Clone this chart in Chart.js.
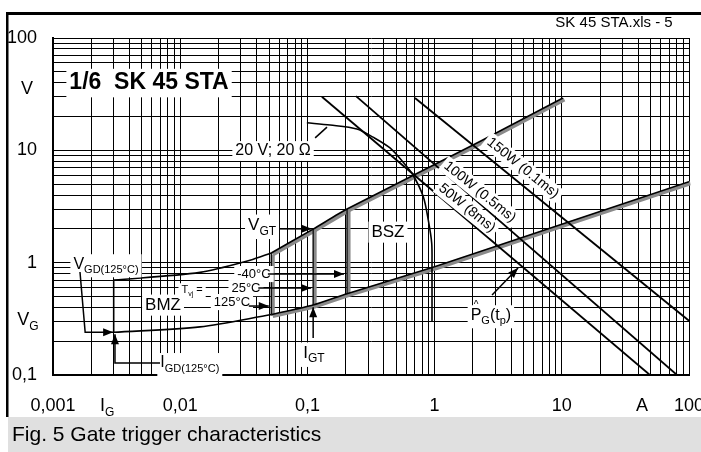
<!DOCTYPE html>
<html>
<head>
<meta charset="utf-8">
<script src="https://cdn.jsdelivr.net/npm/chart.js@4.4.1/dist/chart.umd.min.js"></script>
<style>
  html, body { margin: 0; padding: 0; background: #fff; }
  #cadre { width: 701px; height: 452px; position: relative; }
</style>
</head>
<body>
<div id="cadre"><canvas id="graph"></canvas></div>
<script>
// Axes : décades et graduations intermédiaires
const decadesI = [0.001, 0.01, 0.1, 1, 10, 100];
const decadesV = [0.1, 1, 10, 100];
const mantisses = [1, 2, 3, 4, 5, 6, 7, 8, 9];
const etiquettesI = ['0,001', '0,01', '0,1', '1', '10', '100'];
const etiquettesV = ['0,1', '1', '10', '100'];

// Limite haute (V_GT)
const iHautNoir = [0.003, 0.0143, 0.0354, 0.052];
const vHautNoir = [0.70, 0.82, 1.05, 1.22];
const iHautGris = [0.052, 0.111, 0.205, 2.27, 10.2];
const vHautGris = [1.22, 1.99, 3.0, 12, 29.2];
// Limite basse
const iBasNoir = [0.003, 0.0143, 0.052];
const vBasNoir = [0.24, 0.268, 0.345];
const iBasGris = [0.052, 0.111, 0.205, 1, 10, 100];
const vBasGris = [0.345, 0.42, 0.53, 0.92, 2.2, 5.25];
// Verticales (I_GD et températures)
const iGD = [0.003, 0.003];
const vGD = [0.24, 0.70];
const iT125 = [0.052, 0.052];
const vT125 = [0.345, 1.22];
const iT25 = [0.111, 0.111];
const vT25 = [0.42, 1.99];
const iTm40 = [0.205, 0.205];
const vTm40 = [0.53, 3.0];
// Droite de charge 20 V ; 20 ohms
const i20V = [0.099, 0.151, 0.245, 0.328, 0.446, 0.564, 0.676, 0.815, 0.892, 0.949, 0.954, 0.954];
const v20V = [17.6, 16.8, 15.5, 13.1, 10.5, 7.87, 6.03, 3.86, 2.39, 1.49, 0.92, 0.298];
// Puissances max de gâchette
const i150W = [0.701, 100];
const v150W = [29.2, 0.304];
const i100W = [0.241, 80.5];
const v100W = [30.4, 0.1];
const i50W = [0.130, 49.3];
const v50W = [30.0, 0.1];

const GRIS = '#8a8a8a';
const POLICE = '"Liberation Sans", Arial, sans-serif';

// Textes posés sur le graphique (coordonnées en A / V)
const textes = [
    {segs: [{t: '1/6  SK 45 STA'}], i: 0.00569, v: 39.7, taille: 23, gras: true},
    {segs: [{t: '20 V; 20 \u03A9'}], i: 0.0537, v: 9.86, taille: 16},
    {segs: [{t: 'V'}, {t: 'GT', sub: true}], i: 0.044, v: 2.16, taille: 17},
    {segs: [{t: 'BSZ'}], i: 0.43, v: 1.87, taille: 17},
    {segs: [{t: 'BMZ'}], i: 0.00733, v: 0.419, taille: 17},
    {segs: [{t: 'T'}, {t: 'vj', sub: true}, {t: ' ='}], i: 0.0124, v: 0.57, taille: 11},
    {segs: [{t: '-40\u00B0C'}], i: 0.038, v: 0.792, taille: 13},
    {segs: [{t: '25\u00B0C'}], i: 0.0329, v: 0.594, taille: 13},
    {segs: [{t: '125\u00B0C'}], i: 0.0255, v: 0.446, taille: 13},
    {segs: [{t: 'I'}, {t: 'GT', sub: true}], i: 0.1127, v: 0.157, taille: 17},
    {segs: [{t: 'P', chapeau: true}, {t: 'G', sub: true}, {t: '(t'}, {t: 'p', sub: true}, {t: ')'}], i: 2.77, v: 0.341, taille: 16},
    {segs: [{t: 'V'}, {t: 'GD(125\u00B0C)', sub: true}], i: 0.00261, v: 0.97, taille: 16},
    {segs: [{t: 'I'}, {t: 'GD(125\u00B0C)', sub: true}], i: 0.0119, v: 0.128, taille: 16},
    {segs: [{t: '150W (0.1ms)'}], i: 4.95, v: 6.95, taille: 14, rot: 39},
    {segs: [{t: '100W (0.5ms)'}], i: 2.27, v: 4.26, taille: 14, rot: 39},
    {segs: [{t: '50W (8ms)'}], i: 1.80, v: 3.06, taille: 14, rot: 39}
];

// Flèches (points en A / V, pointe au dernier point)
const fleches = [
    {p: [[0.0609, 2.0], [0.108, 2.0]]},
    {p: [[0.0489, 0.792], [0.194, 0.792]]},
    {p: [[0.0411, 0.594], [0.107, 0.594]]},
    {p: [[0.0346, 0.411], [0.0497, 0.411]]},
    {p: [[0.111, 0.214], [0.111, 0.40]]},
    {p: [[2.83, 0.515], [4.53, 0.895]]},
    {p: [[0.00163, 0.825], [0.00179, 0.24], [0.00297, 0.24]]},
    {p: [[0.00694, 0.128], [0.00307, 0.128], [0.00307, 0.231]]},
    {p: [[0.115, 12.9], [0.1426, 16.1]], sansPointe: true}
];

function points(xs, ys) {
    return xs.map((x, k) => ({x: x, y: ys[k]}));
}

function serie(xs, ys, couleur, epaisseur, extra) {
    return Object.assign({
        data: points(xs, ys),
        borderColor: couleur,
        borderWidth: epaisseur,
        pointRadius: 0,
        fill: false,
        tension: 0,
        order: 1
    }, extra || {});
}

// Graduations : 1..9 x chaque décade
function graduations(decades) {
    const vals = [];
    decades.forEach((d, k) => {
        if (k === decades.length - 1) { vals.push(d); return; }
        mantisses.forEach(m => vals.push(+(m * d).toPrecision(3)));
    });
    return vals;
}

// Texte avec indices, fond blanc, rotation éventuelle
function texteRiche(c, segs, x, y, taille, o) {
    o = o || {};
    const poids = o.gras ? 'bold ' : '';
    const tailleSeg = s => s.sub ? Math.round(taille * 0.68) : taille;
    let w = 0;
    let indice = false;
    segs.forEach(s => {
        c.font = poids + tailleSeg(s) + 'px ' + POLICE;
        w += c.measureText(s.t).width;
        if (s.sub) indice = true;
    });
    c.save();
    c.translate(x, y);
    if (o.rot) c.rotate(o.rot * Math.PI / 180);
    let x0 = o.align === 'left' ? 0 : (o.align === 'right' ? -w : -w / 2);
    if (o.fond !== false) {
        c.fillStyle = '#fff';
        const haut = -taille * 0.62;
        const bas = indice ? taille * 0.82 : taille * 0.62;
        c.fillRect(x0 - 3, haut, w + 6, bas - haut);
    }
    c.fillStyle = '#000';
    c.textBaseline = 'middle';
    c.textAlign = 'left';
    segs.forEach(s => {
        c.font = poids + tailleSeg(s) + 'px ' + POLICE;
        const dy = s.sub ? taille * 0.36 : 0;
        c.fillText(s.t, x0, dy);
        const ws = c.measureText(s.t).width;
        if (s.chapeau) {
            c.font = Math.round(taille * 0.6) + 'px ' + POLICE;
            c.textAlign = 'center';
            c.fillText('^', x0 + ws / 2, -taille * 0.62);
            c.textAlign = 'left';
        }
        x0 += ws;
    });
    c.restore();
}

function fleche(c, pts, pointe) {
    c.save();
    c.strokeStyle = '#000';
    c.fillStyle = '#000';
    c.lineWidth = 1.5;
    c.beginPath();
    pts.forEach((p, k) => k === 0 ? c.moveTo(p[0], p[1]) : c.lineTo(p[0], p[1]));
    c.stroke();
    if (pointe) {
        const a = pts[pts.length - 2], b = pts[pts.length - 1];
        const ang = Math.atan2(b[1] - a[1], b[0] - a[0]);
        c.translate(b[0], b[1]);
        c.rotate(ang);
        c.beginPath();
        c.moveTo(0, 0);
        c.lineTo(-10, -4);
        c.lineTo(-10, 4);
        c.closePath();
        c.fill();
    }
    c.restore();
}

// Décale les traits gris pour l'effet d'ombre
const decalage = {
    id: 'decalage',
    beforeDatasetDraw(chart, args) {
        chart.ctx.save();
        if (chart.data.datasets[args.index].decale) chart.ctx.translate(1.5, 1.5);
    },
    afterDatasetDraw(chart) {
        chart.ctx.restore();
    }
};

// Cadre, bandeau de légende, en-tête
const habillage = {
    id: 'habillage',
    beforeDraw(chart) {
        const c = chart.ctx;
        c.save();
        c.fillStyle = '#fff';
        c.fillRect(0, 0, chart.width, chart.height);
        c.fillStyle = '#e0e0e0';
        c.fillRect(8, 417, chart.width - 8, chart.height - 417);
        c.fillStyle = '#000';
        c.fillRect(6, 12, chart.width - 6, 3);
        c.fillRect(6, 12, 2.5, 405);
        c.restore();
        texteRiche(c, [{t: 'SK 45 STA.xls - 5'}], 614, 23, 15, {fond: false});
        texteRiche(c, [{t: 'Fig. 5 Gate trigger characteristics'}], 12, 435, 21, {fond: false, align: 'left'});
    },
    afterDatasetsDraw(chart) {
        const c = chart.ctx;
        const sx = chart.scales.x, sy = chart.scales.y;
        const zone = chart.chartArea;
        // Étiquettes des axes
        decadesI.forEach((d, k) => {
            texteRiche(c, [{t: etiquettesI[k]}], sx.getPixelForValue(d), zone.bottom + 31, 18, {fond: false});
        });
        texteRiche(c, [{t: 'I'}, {t: 'G', sub: true}], sx.getPixelForValue(0.00266), zone.bottom + 31, 18, {fond: false});
        texteRiche(c, [{t: 'A'}], sx.getPixelForValue(42.8), zone.bottom + 31, 18, {fond: false});
        decadesV.forEach((d, k) => {
            texteRiche(c, [{t: etiquettesV[k]}], zone.left - 16, sy.getPixelForValue(d), 18, {fond: false, align: 'right'});
        });
        texteRiche(c, [{t: 'V'}], zone.left - 26, sy.getPixelForValue(35.1), 18, {fond: false});
        texteRiche(c, [{t: 'V'}, {t: 'G', sub: true}], zone.left - 25, sy.getPixelForValue(0.308), 18, {fond: false});
        // Annotations
        textes.forEach(o => {
            texteRiche(c, o.segs, sx.getPixelForValue(o.i), sy.getPixelForValue(o.v), o.taille, {gras: o.gras, rot: o.rot});
        });
        fleches.forEach(f => {
            const pts = f.p.map(p => [sx.getPixelForValue(p[0]), sy.getPixelForValue(p[1])]);
            fleche(c, pts, !f.sansPointe);
        });
    }
};

const datasets = [
    serie(iHautGris, vHautGris, GRIS, 4, {decale: true, order: 2}),
    serie(iBasGris, vBasGris, GRIS, 4, {decale: true, order: 2}),
    serie(iT125, vT125, GRIS, 4, {decale: true, order: 2}),
    serie(iT25, vT25, GRIS, 4, {decale: true, order: 2}),
    serie(iTm40, vTm40, GRIS, 4, {decale: true, order: 2}),
    serie(iHautNoir, vHautNoir, '#000', 1.6, {tension: 0.3}),
    serie(iHautGris, vHautGris, '#000', 1.6, {tension: 0.2}),
    serie(iBasNoir, vBasNoir, '#000', 1.6, {tension: 0.3}),
    serie(iBasGris, vBasGris, '#000', 1.6, {tension: 0.2}),
    serie(iGD, vGD, '#000', 1.6),
    serie(iT125, vT125, '#000', 1.2),
    serie(iT25, vT25, '#000', 1.2),
    serie(iTm40, vTm40, '#000', 1.2),
    serie(i20V, v20V, '#000', 1.6, {tension: 0.3}),
    serie(i150W, v150W, '#000', 1.8),
    serie(i100W, v100W, '#000', 1.8),
    serie(i50W, v50W, '#000', 1.8)
];

const grille = {color: '#000', lineWidth: 1, drawTicks: false};
const bord = {display: true, color: '#000', width: 2};

new Chart(document.getElementById('graph').getContext('2d'), {
    type: 'line',
    data: {datasets: datasets},
    options: {
        responsive: true,
        maintainAspectRatio: false,
        animation: false,
        events: [],
        layout: {padding: {left: 53, top: 38, right: 12, bottom: 77}},
        plugins: {legend: {display: false}, tooltip: {enabled: false}},
        scales: {
            x: {
                type: 'logarithmic', min: 0.001, max: 100,
                grid: grille, border: bord,
                ticks: {display: false, autoSkip: false},
                afterBuildTicks: axe => { axe.ticks = graduations(decadesI).map(v => ({value: v})); }
            },
            y: {
                type: 'logarithmic', min: 0.1, max: 100,
                grid: grille, border: bord,
                ticks: {display: false, autoSkip: false},
                afterBuildTicks: axe => { axe.ticks = graduations(decadesV).map(v => ({value: v})); }
            }
        }
    },
    plugins: [decalage, habillage]
});
</script>
</body>
</html>
